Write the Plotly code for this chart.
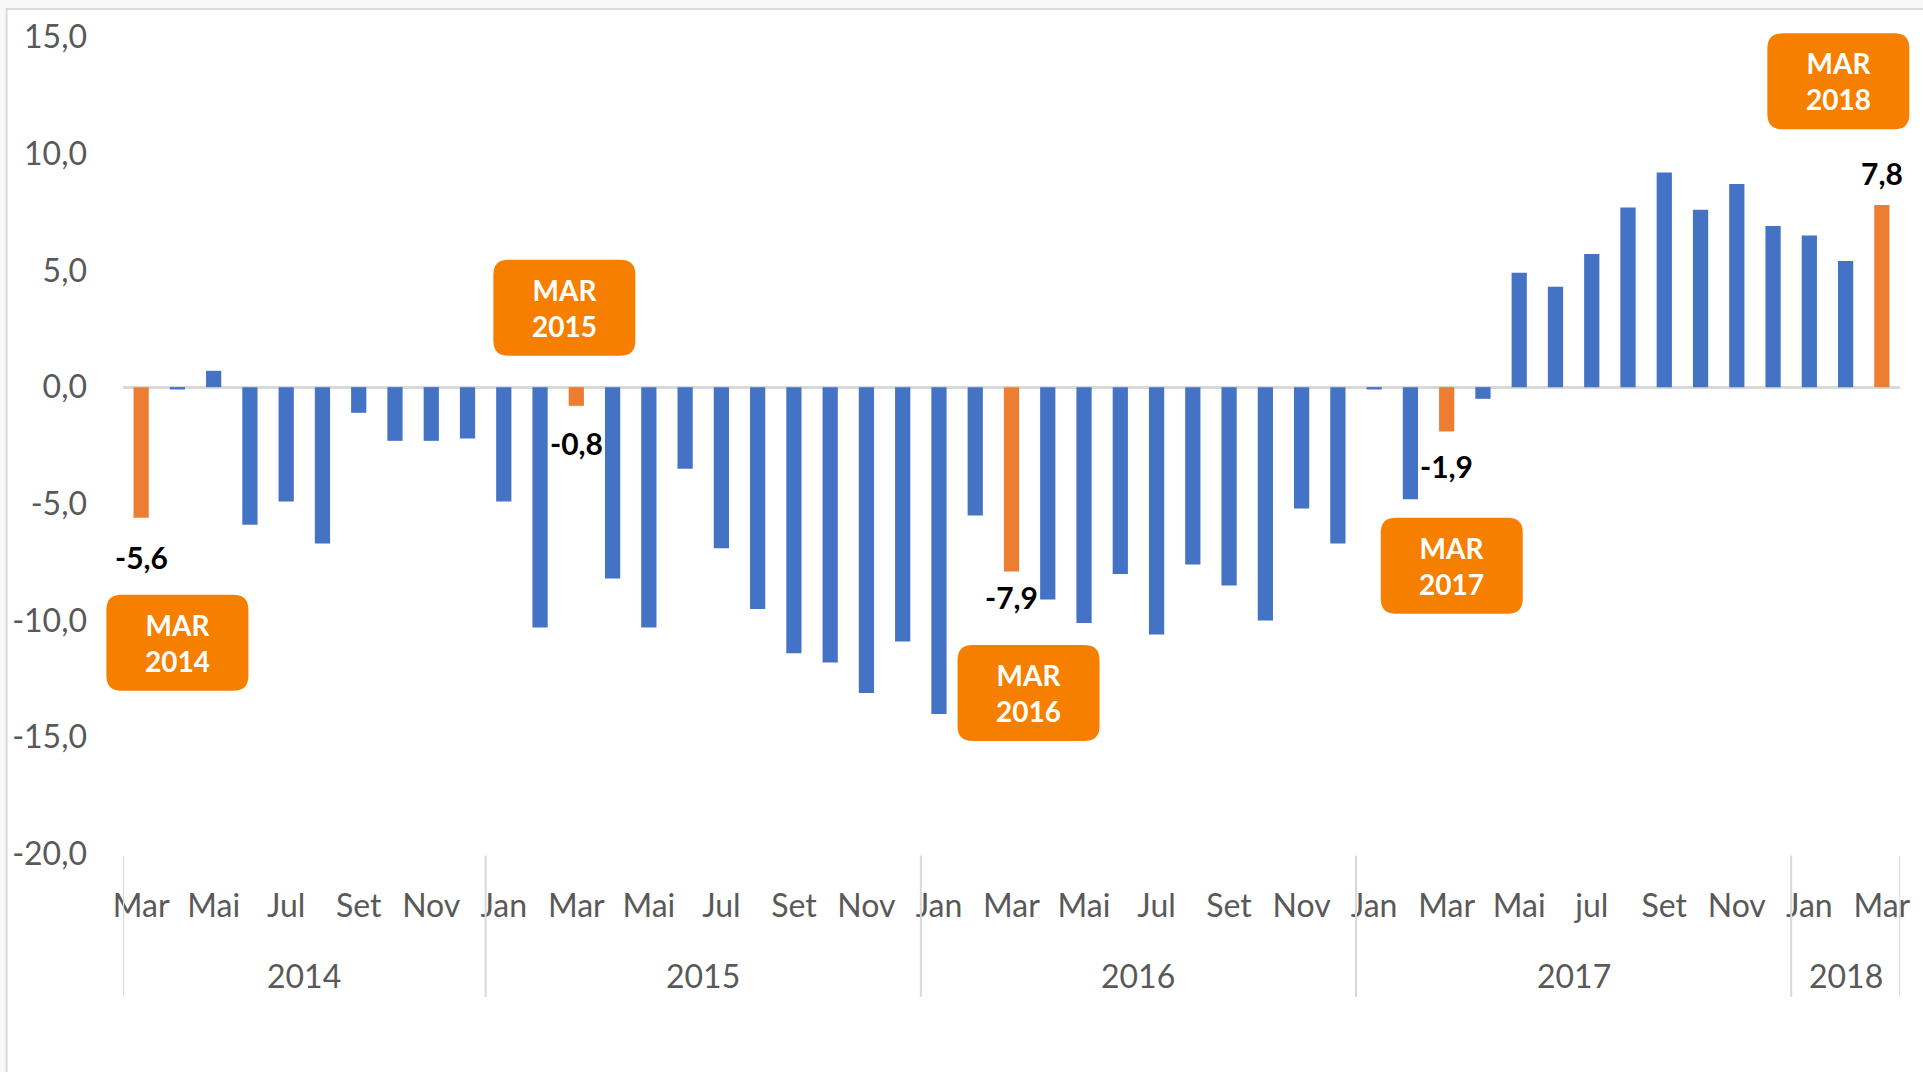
import plotly.graph_objects as go

# variação em 12 meses, mar/2014 a mar/2018
MONTHS = [
    "Mar", "Abr", "Mai", "Jun", "Jul", "Ago", "Set", "Out", "Nov", "Dez",
    "Jan", "Fev", "Mar", "Abr", "Mai", "Jun", "Jul", "Ago", "Set", "Out", "Nov", "Dez",
    "Jan", "Fev", "Mar", "Abr", "Mai", "Jun", "Jul", "Ago", "Set", "Out", "Nov", "Dez",
    "Jan", "Fev", "Mar", "Abr", "Mai", "Jun", "jul", "Ago", "Set", "Out", "Nov", "Dez",
    "Jan", "Fev", "Mar",
]
YEAR_NAMES = ["2014", "2015", "2016", "2017", "2018"]
YEAR_SIZES = [10, 12, 12, 12, 3]
VALUES = [
    -5.6, -0.1, 0.7, -5.9, -4.9, -6.7, -1.1, -2.3, -2.3, -2.2,
    -4.9, -10.3, -0.8, -8.2, -10.3, -3.5, -6.9, -9.5, -11.4, -11.8, -13.1, -10.9,
    -14.0, -5.5, -7.9, -9.1, -10.1, -8.0, -10.6, -7.6, -8.5, -10.0, -5.2, -6.7,
    -0.1, -4.8, -1.9, -0.5, 4.9, 4.3, 5.7, 7.7, 9.2, 7.6, 8.7, 6.9,
    6.5, 5.4, 7.8,
]
Y_TICKS = [-20, -15, -10, -5, 0, 5, 10, 15]
Y_RANGE = [-20, 15]

BLUE = "#4472C4"
ORANGE = "#ED7D31"
CALLOUT = "#F77F00"
GREY_TEXT = "#595959"
LINE_GREY = "#D9D9D9"
FONT = "Lato, Open Sans, sans-serif"

# deslocamentos (px) dos rótulos e posição das caixas "MAR AAAA" em relação à barra
LABEL_SHIFT = [-39, -37, -25, -35, 32]
CALLOUT_OFFSET = [(1.0, -10.95), (-0.33, 3.4), (0.47, -13.1), (0.14, -7.65), (-1.2, 13.1)]


def fmt(v):
    return f"{v:.1f}".replace(".", ",")


def rounded_rect(w, h, r):
    x, y = w / 2, h / 2
    return (
        f"M {-x + r},{-y} L {x - r},{-y} Q {x},{-y} {x},{-y + r} "
        f"L {x},{y - r} Q {x},{y} {x - r},{y} L {-x + r},{y} Q {-x},{y} {-x},{y - r} "
        f"L {-x},{-y + r} Q {-x},{-y} {-x + r},{-y} Z"
    )


years = [name for name, n in zip(YEAR_NAMES, YEAR_SIZES) for _ in range(n)]
xs = list(range(len(VALUES)))
x_range = [-0.5, len(VALUES) - 0.5]
highlight = [i for i, m in enumerate(MONTHS) if m == "Mar"]
colors = [ORANGE if i in highlight else BLUE for i in xs]


def to_paper(x, y):
    # caixas em coordenadas de papel para não serem cortadas na borda do gráfico
    px = (x - x_range[0]) / (x_range[1] - x_range[0])
    py = (y - Y_RANGE[0]) / (Y_RANGE[1] - Y_RANGE[0])
    return px, py


fig = go.Figure(
    go.Bar(
        x=xs,
        y=VALUES,
        marker=dict(color=colors, line_width=0),
        hovertext=[f"{m}/{y}" for m, y in zip(MONTHS, years)],
        showlegend=False,
    )
)

annotations = []
shapes = []

# rótulos de dados e caixas nas barras de março
for k, i in enumerate(highlight):
    annotations.append(
        dict(
            x=i, y=VALUES[i], xref="x", yref="y", text=f"<b>{fmt(VALUES[i])}</b>",
            showarrow=False, yshift=LABEL_SHIFT[k],
            font=dict(family=FONT, size=30, color="#000000"),
        )
    )
    dx, cy = CALLOUT_OFFSET[k]
    px, py = to_paper(i + dx, cy)
    shapes.append(
        dict(
            type="path", xref="paper", yref="paper", xsizemode="pixel", ysizemode="pixel",
            xanchor=px, yanchor=py, path=rounded_rect(142, 96, 15),
            fillcolor=CALLOUT, line=dict(width=0), layer="above",
        )
    )
    annotations.append(
        dict(
            x=px, y=py, xref="paper", yref="paper", xanchor="center", yanchor="middle",
            text=f"<b>MAR<br>{years[i]}</b>", align="center",
            showarrow=False, font=dict(family=FONT, size=28, color="white"),
        )
    )

# anos e divisórias do eixo
start = 0
bounds = [-0.5]
for name, n in zip(YEAR_NAMES, YEAR_SIZES):
    annotations.append(
        dict(
            x=start + (n - 1) / 2, y=-0.149, xref="x", yref="paper", text=name,
            showarrow=False, xanchor="center", yanchor="middle",
            font=dict(family=FONT, size=32, color=GREY_TEXT),
        )
    )
    start += n
    bounds.append(start - 0.5)
for b in bounds:
    shapes.append(
        dict(type="line", xref="x", yref="paper", x0=b, x1=b, y0=-0.002, y1=-0.175,
             line=dict(color=LINE_GREY, width=2))
    )

# moldura da área do gráfico
shapes.append(
    dict(type="rect", xref="paper", yref="paper", x0=-0.0655, x1=1.2, y0=-0.4, y1=1.0343,
         fillcolor="white", line=dict(color=LINE_GREY, width=2), layer="below")
)

fig.update_layout(
    width=1923,
    height=1072,
    margin=dict(l=121, r=21, t=37, b=218),
    paper_bgcolor="#F8F8F8",
    plot_bgcolor="white",
    bargap=0.58,
    font=dict(family=FONT, size=32, color=GREY_TEXT),
    annotations=annotations,
    shapes=shapes,
)
fig.update_xaxes(
    range=x_range,
    tickvals=xs[::2],
    ticktext=MONTHS[::2],
    showgrid=False,
    showline=False,
    zeroline=False,
    ticks="",
    ticklabelstandoff=30,
    tickfont=dict(family=FONT, size=32, color=GREY_TEXT),
)
fig.update_yaxes(
    range=Y_RANGE,
    tickvals=Y_TICKS,
    ticktext=[fmt(v) for v in Y_TICKS],
    showgrid=False,
    showline=False,
    zeroline=True,
    zerolinecolor=LINE_GREY,
    zerolinewidth=2.5,
    ticks="",
    ticklabelstandoff=35,
    tickfont=dict(family=FONT, size=32, color=GREY_TEXT),
)

fig.write_html(
    "out.html",
    config={"displayModeBar": False},
    post_script="document.body.style.margin='0';",
)
